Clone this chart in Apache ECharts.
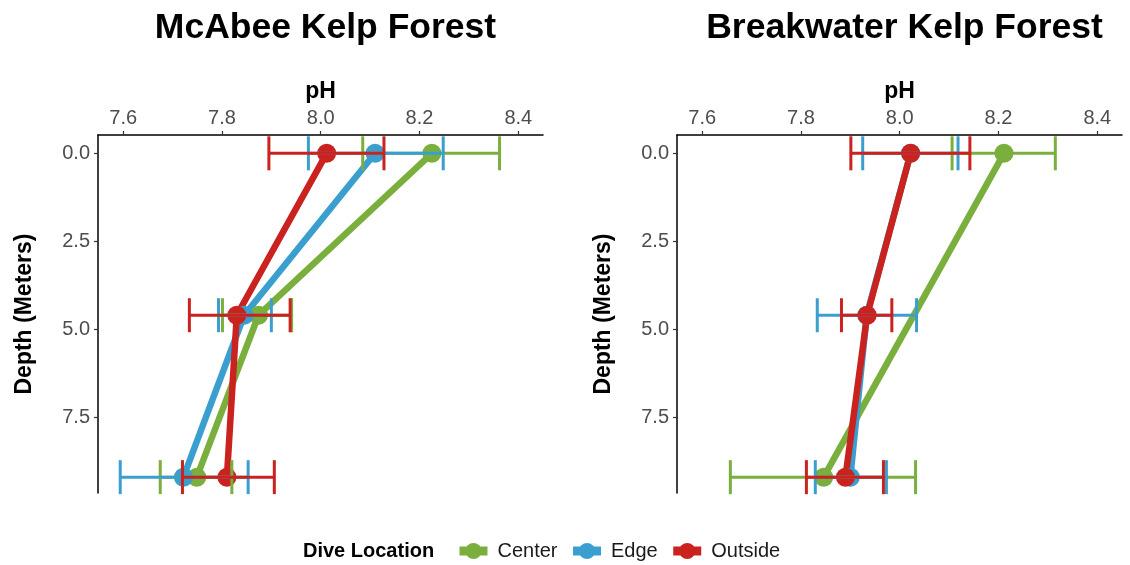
<!DOCTYPE html>
<html>
<head>
<meta charset="utf-8">
<title>pH by depth — McAbee and Breakwater kelp forests</title>
<script src="https://cdn.jsdelivr.net/npm/echarts@6/dist/echarts.min.js"></script>
<style>
  html, body { margin: 0; padding: 0; background: #ffffff; }
  #chart { width: 1130px; height: 565px; }
</style>
</head>
<body>
<div id="chart"></div>
<script>
// Axis ticks
const phTicks = [7.6, 7.8, 8.0, 8.2, 8.4];
const depthTicks = [0, 2.5, 5.0, 7.5];

// Sampling depths (m)
const depths = [0, 4.6, 9.2];
const breakwaterCenterDepths = [0, 9.2];

// McAbee Kelp Forest — mean pH and error-bar limits per depth
const mcabeeCenterPH   = [8.225, 7.874, 7.749];
const mcabeeCenterLow  = [8.085, 7.801, 7.675];
const mcabeeCenterHigh = [8.362, 7.941, 7.820];
const mcabeeEdgePH     = [8.110, 7.845, 7.722];
const mcabeeEdgeLow    = [7.975, 7.793, 7.594];
const mcabeeEdgeHigh   = [8.248, 7.900, 7.853];
const mcabeeOutsidePH  = [8.012, 7.830, 7.810];
const mcabeeOutsideLow = [7.895, 7.734, 7.720];
const mcabeeOutsideHigh= [8.128, 7.938, 7.906];

// Breakwater Kelp Forest
const breakwaterCenterPH   = [8.211, 7.846];
const breakwaterCenterLow  = [8.106, 7.657];
const breakwaterCenterHigh = [8.315, 8.032];
const breakwaterEdgePH     = [8.022, 7.933, 7.900];
const breakwaterEdgeLow    = [7.925, 7.833, 7.829];
const breakwaterEdgeHigh   = [8.118, 8.034, 7.973];
const breakwaterOutsidePH  = [8.022, 7.934, 7.890];
const breakwaterOutsideLow = [7.901, 7.882, 7.811];
const breakwaterOutsideHigh= [8.142, 7.984, 7.967];

const locations = ['Center', 'Edge', 'Outside'];
const colors = { Center: '#7aaf3e', Edge: '#3a9fcf', Outside: '#c9221f' };
const FONT = '"Liberation Sans", Arial, Helvetica, sans-serif';

const panels = [
  { title: 'McAbee Kelp Forest', left: 98,
    sets: {
      Center:  { d: depths, m: mcabeeCenterPH,  lo: mcabeeCenterLow,  hi: mcabeeCenterHigh },
      Edge:    { d: depths, m: mcabeeEdgePH,    lo: mcabeeEdgeLow,    hi: mcabeeEdgeHigh },
      Outside: { d: depths, m: mcabeeOutsidePH, lo: mcabeeOutsideLow, hi: mcabeeOutsideHigh }
    } },
  { title: 'Breakwater Kelp Forest', left: 677,
    sets: {
      Center:  { d: breakwaterCenterDepths, m: breakwaterCenterPH, lo: breakwaterCenterLow, hi: breakwaterCenterHigh },
      Edge:    { d: depths, m: breakwaterEdgePH,    lo: breakwaterEdgeLow,    hi: breakwaterEdgeHigh },
      Outside: { d: depths, m: breakwaterOutsidePH, lo: breakwaterOutsideLow, hi: breakwaterOutsideHigh }
    } }
];

const GRID_W = 445, GRID_TOP = 135, GRID_H = 358;

const grids = [], xAxes = [], yAxes = [], titles = [], series = [];

panels.forEach((p, i) => {
  grids.push({ left: p.left, top: GRID_TOP, width: GRID_W, height: GRID_H });
  titles.push({
    text: p.title, left: p.left + GRID_W / 2, top: 5, textAlign: 'center',
    textStyle: { fontFamily: FONT, fontSize: 35.5, fontWeight: 'bold', color: '#000' }
  });
  xAxes.push({
    gridIndex: i, type: 'value', position: 'top', min: 7.549, max: 8.45,
    name: 'pH', nameLocation: 'middle', nameGap: 31,
    nameTextStyle: { fontFamily: FONT, fontSize: 23, fontWeight: 'bold', color: '#000' },
    axisLine: { show: true, onZero: false, lineStyle: { color: '#000', width: 1.5 } },
    axisTick: { show: true, length: 4, customValues: phTicks, lineStyle: { color: '#333', width: 1.2 } },
    axisLabel: { customValues: phTicks, margin: 7, fontFamily: FONT, fontSize: 20, color: '#4d4d4d',
                 formatter: v => v.toFixed(1) },
    splitLine: { show: false }
  });
  yAxes.push({
    gridIndex: i, type: 'value', inverse: true, min: -0.52, max: 9.65,
    name: 'Depth (Meters)', nameLocation: 'middle', nameGap: 62,
    nameTextStyle: { fontFamily: FONT, fontSize: 23, fontWeight: 'bold', color: '#000' },
    axisLine: { show: true, onZero: false, lineStyle: { color: '#000', width: 1.5 } },
    axisTick: { show: true, length: 4, customValues: depthTicks, lineStyle: { color: '#333', width: 1.2 } },
    axisLabel: { customValues: depthTicks, margin: 8, fontFamily: FONT, fontSize: 20, color: '#4d4d4d',
                 formatter: v => v.toFixed(1) },
    splitLine: { show: false }
  });

  // connecting lines with mean points
  locations.forEach(loc => {
    const s = p.sets[loc];
    series.push({
      name: loc, type: 'line', xAxisIndex: i, yAxisIndex: i, z: 2,
      data: s.d.map((d, k) => [s.m[k], d]),
      symbol: 'circle', symbolSize: 19, showAllSymbol: true,
      lineStyle: { color: colors[loc], width: 6.5 },
      itemStyle: { color: colors[loc] },
      emphasis: { disabled: true }, animation: false
    });
  });

  // horizontal error bars with caps
  locations.forEach(loc => {
    const s = p.sets[loc];
    const col = colors[loc];
    series.push({
      name: loc + ' range', type: 'custom', xAxisIndex: i, yAxisIndex: i, z: 3,
      data: s.d.map((d, k) => [s.lo[k], s.hi[k], d]),
      encode: { x: [0, 1], y: 2 },
      clip: false, animation: false,
      renderItem: (params, api) => {
        const a = api.coord([api.value(0), api.value(2)]);
        const b = api.coord([api.value(1), api.value(2)]);
        const h = 17;
        const st = { stroke: col, lineWidth: 3 };
        return {
          type: 'group',
          children: [
            { type: 'line', shape: { x1: a[0], y1: a[1], x2: b[0], y2: b[1] }, style: st },
            { type: 'line', shape: { x1: a[0], y1: a[1] - h, x2: a[0], y2: a[1] + h }, style: st },
            { type: 'line', shape: { x1: b[0], y1: b[1] - h, x2: b[0], y2: b[1] + h }, style: st }
          ]
        };
      }
    });
  });
});

const chart = echarts.init(document.getElementById('chart'), null, { renderer: 'canvas' });
chart.setOption({
  backgroundColor: '#ffffff',
  animation: false,
  title: titles,
  grid: grids,
  xAxis: xAxes,
  yAxis: yAxes,
  legend: {
    data: locations, left: 455, top: 541, padding: 0,
    itemWidth: 28, itemHeight: 20, itemGap: 11,
    selectedMode: false,
    lineStyle: { width: 9 },
    textStyle: { fontFamily: FONT, fontSize: 20, color: '#1a1a1a', padding: [0, 0, 0, 5] }
  },
  graphic: [{
    type: 'text', left: 303, top: 541,
    style: { text: 'Dive Location', fontFamily: FONT, fontSize: 20, fontWeight: 'bold', fill: '#000' }
  }],
  series: series
});
</script>
</body>
</html>
